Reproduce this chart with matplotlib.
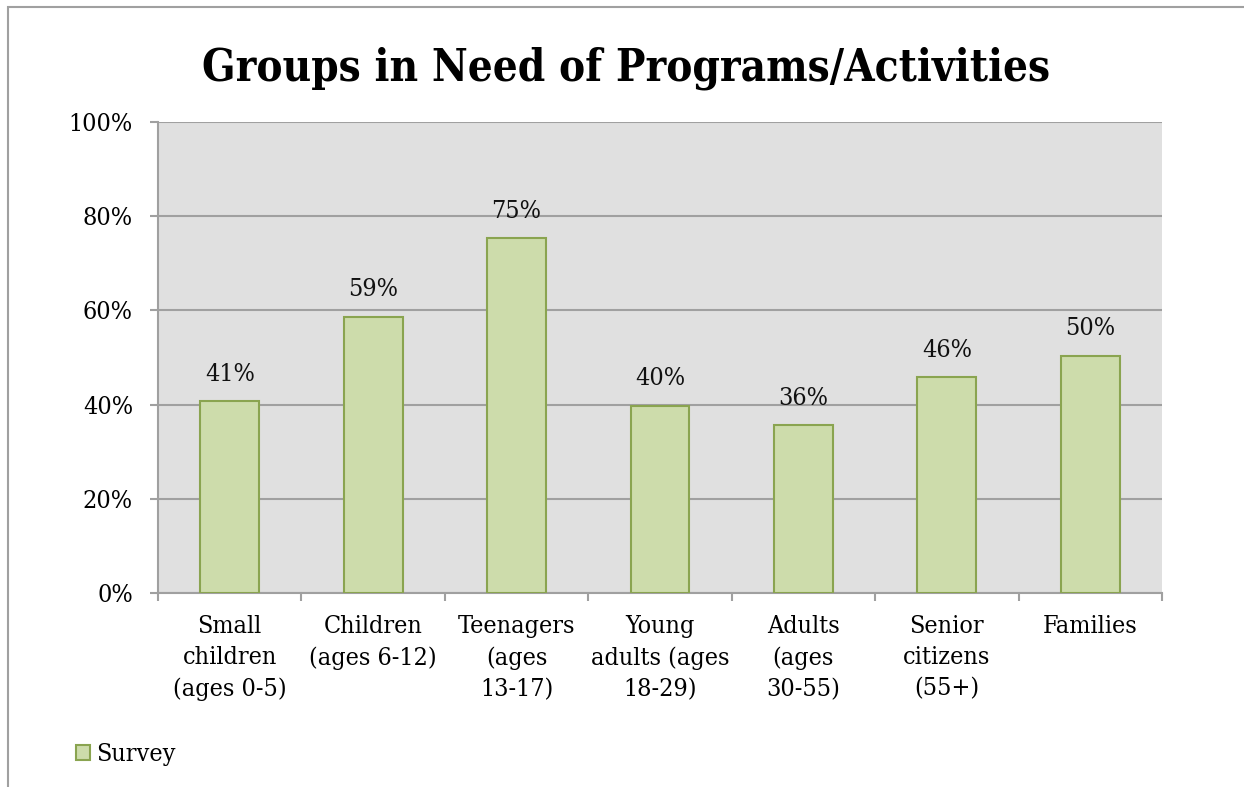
import matplotlib
matplotlib.use("Agg")
import matplotlib.pyplot as plt
from matplotlib.patches import Rectangle

groups = ["Small\nchildren\n(ages 0-5)", "Children\n(ages 6-12)", "Teenagers\n(ages\n13-17)",
          "Young\nadults (ages\n18-29)", "Adults\n(ages\n30-55)", "Senior\ncitizens\n(55+)", "Families"]
survey = [0.407, 0.587, 0.754, 0.398, 0.357, 0.458, 0.504]
yticks = [0, 0.2, 0.4, 0.6, 0.8, 1.0]
ytick_labels = ["0%", "20%", "40%", "60%", "80%", "100%"]

plt.rcParams['font.family'] = ['DejaVu Serif']
plt.rcParams['font.stretch'] = 'condensed'
W, H = 1244, 787
fs = 18
fig = plt.figure(figsize=(W / 100, H / 100), dpi=100)

# outer chart frame (bottom edge runs off the page)
fig.patches.append(Rectangle((8 / W, -0.05), 1.2, (H - 7) / H + 0.05, transform=fig.transFigure,
                             fill=False, edgecolor="#a0a0a0", lw=1.5))

ax = fig.add_axes([158 / W, (H - 593) / H, (1162 - 158) / W, (593 - 122) / H])
ax.set_facecolor("#e0e0e0")
x = list(range(len(groups)))
bars = ax.bar(x, survey, width=0.41, color="#cddcab", edgecolor="#8aa450", lw=1.5, zorder=3,
              label="Survey")
for xi, v in zip(x, survey):
    ax.annotate(f"{v:.0%}", (xi, v), xytext=(0, 11), textcoords="offset points",
                ha="center", va="bottom", fontsize=fs, color="#111111")

ax.set_xlim(-0.5, len(groups) - 0.5)
ax.set_ylim(0, 1.0)
ax.set_yticks(yticks, ytick_labels)
ax.yaxis.grid(True, color="#a0a0a0", lw=1.5, zorder=1)
ax.set_axisbelow(True)

ax.set_xticks([i - 0.5 for i in range(len(groups) + 1)], [""] * (len(groups) + 1))
ax.set_xticks(x, groups, minor=True)
ax.tick_params(axis="x", which="major", length=6, width=1.5, color="#a0a0a0")
ax.tick_params(axis="x", which="minor", length=0, pad=15.5, labelsize=fs)
ax.tick_params(axis="y", length=6, width=1.5, color="#a0a0a0", pad=12, labelsize=fs)
for lab in ax.get_xticklabels(minor=True):
    lab.set_linespacing(1.46)

for side in ["top", "right"]:
    ax.spines[side].set_visible(False)
for side in ["left", "bottom"]:
    ax.spines[side].set_color("#a0a0a0")
    ax.spines[side].set_linewidth(1.5)

fig.text(626 / W, 1 - 80 / H, "Groups in Need of Programs/Activities", ha="center", va="baseline",
         fontsize=31.5, fontweight="bold", color="black")

fig.legend(handles=[bars], labels=["Survey"], loc="center left", bbox_to_anchor=(76 / W, 1 - 755 / H),
           frameon=False, fontsize=fs, handlelength=0.55, handleheight=0.55, handletextpad=0.25,
           borderaxespad=0, borderpad=0)

fig.savefig("out.png", dpi=100)
